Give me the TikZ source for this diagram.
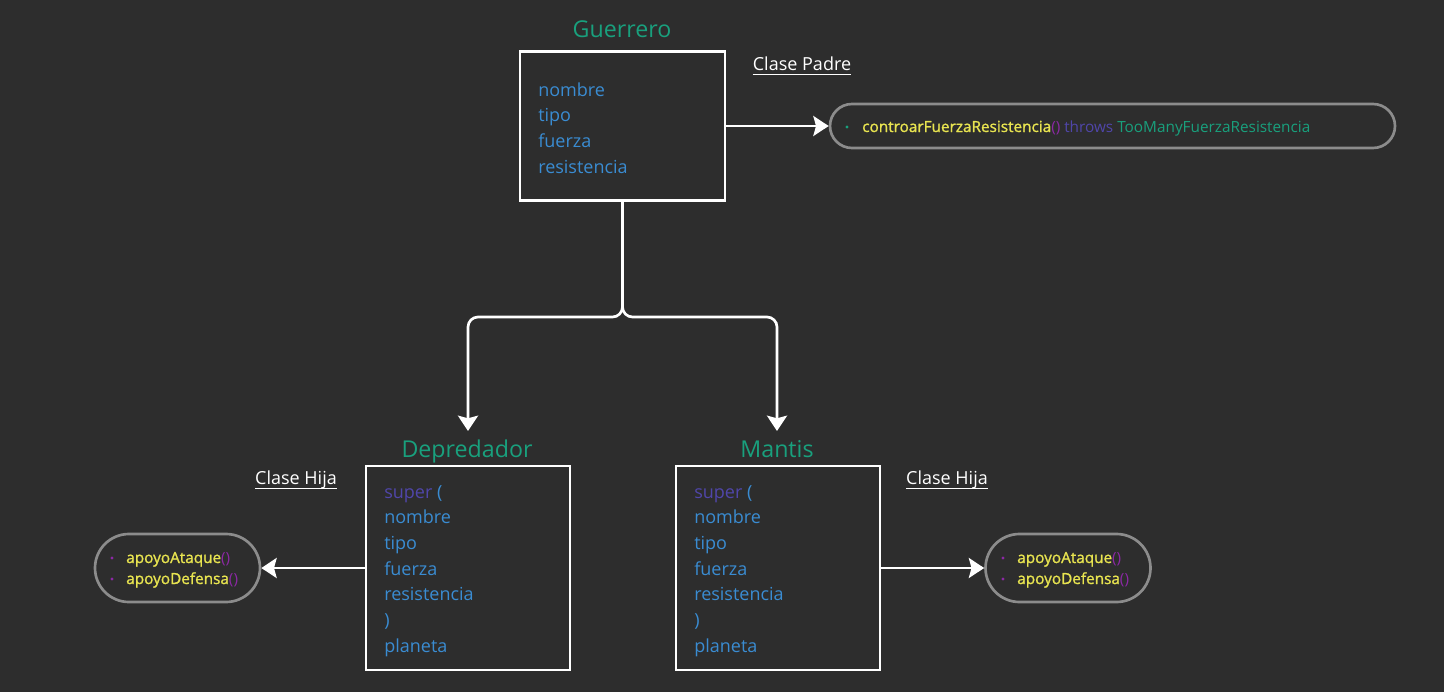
\documentclass[tikz,border=0pt]{standalone}
\usepackage{fontspec}
\setmainfont{Open Sans}
\newfontfamily\semib{Open Sans}[FakeBold=1.3]
\usetikzlibrary{arrows.meta,shapes.misc}
\newdimen\pxu \pxu=0.75pt
\definecolor{bg}{RGB}{45,45,45}
\definecolor{ttl}{RGB}{25,160,125}
\definecolor{blu}{RGB}{58,140,210}
\definecolor{sup}{RGB}{80,70,170}
\definecolor{yel}{RGB}{232,228,80}
\definecolor{pur}{RGB}{140,40,165}
\definecolor{gry}{RGB}{140,140,140}
\begin{document}
\begin{tikzpicture}[x=0.75pt,y=-0.75pt,
  box/.style={draw=white, line width=2pt, rectangle, inner sep=0pt},
  pill/.style={draw=gry, line width=2pt, rounded rectangle, inner sep=0pt},
  conn/.style={draw=white, line width=2pt, -{Stealth[length=11.5pt,width=15pt,inset=2pt]}},
  title/.style={font=\fontsize{17.4}{20}\selectfont, text=ttl, anchor=base, inner sep=0pt},
  field/.style={font=\fontsize{13.5}{16}\selectfont, text=blu, anchor=base west, inner sep=0pt},
  label/.style={font=\fontsize{13.5}{16}\selectfont, text=white, anchor=base, inner sep=0pt},
  meth/.style={font=\fontsize{11.5}{13}\selectfont, anchor=base west, inner sep=0pt},
  dot/.style={circle, inner sep=0pt, minimum size=2.4pt}]
\useasboundingbox[fill=bg] (0,0) rectangle (1444,692);

% Guerrero
\node[box, minimum width=205\pxu, minimum height=149\pxu] (G) at (622.5,126) {};
\node[title] (Gt) at (622,37.5) {Guerrero};
\foreach \t [count=\i] in {nombre,tipo,fuerza,resistencia}
  \node[field] (g\i) at (538,{96+25.7*(\i-1)}) {\t};
\node[label] (cp) at (802,70.5) {Clase Padre};
\draw[white, line width=1.1pt] ([yshift=-3.2pt]cp.base west) -- ([yshift=-3.2pt]cp.base east);

\node[pill, minimum width=565\pxu, minimum height=44\pxu] (gp) at (1112.5,126) {};
\node[dot, fill=ttl] (gb) at (847,127) {};
\node[meth] (gm) at (862,132) {{\semib\color{yel}controarFuerzaResistencia}{\color{pur}()} {\color{sup}throws} {\color{ttl}TooManyFuerzaResistencia}};
\draw[conn] (G.east) -- (gp.west);

% Depredador
\node[box, minimum width=204\pxu, minimum height=204\pxu] (D) at (468,568) {};
\node[title] (Dt) at (467,457) {Depredador};
\foreach \t [count=\i] in {{{\color{sup}super} (},nombre,tipo,fuerza,resistencia,),planeta}
  \node[field] (d\i) at (384,{498+25.7*(\i-1)}) {\t};
\node[label] (ch1) at (296,484) {Clase Hija};
\draw[white, line width=1.1pt] ([yshift=-3.2pt]ch1.base west) -- ([yshift=-3.2pt]ch1.base east);

\node[pill, minimum width=165\pxu, minimum height=68\pxu] (lp) at (177.5,568) {};
\node[dot, fill=pur] (lb1) at (112,558) {};
\node[dot, fill=pur] (lb2) at (112,579) {};
\node[meth] (lm1) at (126,563) {{\semib\color{yel}apoyoAtaque}{\color{pur}()}};
\node[meth] (lm2) at (126,584) {{\semib\color{yel}apoyoDefensa}{\color{pur}()}};
\draw[conn] (D.west) -- (lp.east);

% Mantis
\node[box, minimum width=204\pxu, minimum height=204\pxu] (M) at (778,568) {};
\node[title] (Mt) at (777,457) {Mantis};
\foreach \t [count=\i] in {{{\color{sup}super} (},nombre,tipo,fuerza,resistencia,),planeta}
  \node[field] (m\i) at (694,{498+25.7*(\i-1)}) {\t};
\node[label] (ch2) at (947,484) {Clase Hija};
\draw[white, line width=1.1pt] ([yshift=-3.2pt]ch2.base west) -- ([yshift=-3.2pt]ch2.base east);

\node[pill, minimum width=165\pxu, minimum height=68\pxu] (rp) at (1068,568) {};
\node[dot, fill=pur] (rb1) at (1003,558) {};
\node[dot, fill=pur] (rb2) at (1003,579) {};
\node[meth] (rm1) at (1017,563) {{\semib\color{yel}apoyoAtaque}{\color{pur}()}};
\node[meth] (rm2) at (1017,584) {{\semib\color{yel}apoyoDefensa}{\color{pur}()}};
\draw[conn] (M.east) -- (rp.west);

% tree
\coordinate (split) at (622.5,317);
\coordinate (dEnd) at (468,431);
\coordinate (mEnd) at (777,431);
\draw[conn, rounded corners=7.5pt] (G.south) -- (split) -| (dEnd);
\draw[conn, rounded corners=7.5pt] (G.south) -- (split) -| (mEnd);
\end{tikzpicture}
\end{document}
